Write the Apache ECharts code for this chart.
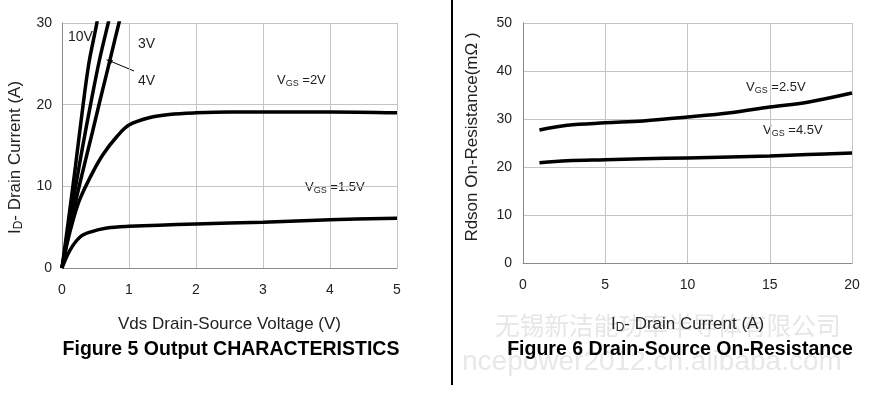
<!DOCTYPE html>
<html>
<head>
<meta charset="utf-8">
<script src="https://cdn.jsdelivr.net/npm/echarts@6/dist/echarts.min.js"></script>
<style>
  html, body { margin: 0; padding: 0; background: #fff; }
  #chart { width: 869px; height: 396px; }
</style>
</head>
<body>
<div id="chart"></div>
<script>
// Figure 5: output characteristics (Vds in V, Id in A)
const vdsTicks = [0, 1, 2, 3, 4, 5];
const idTicks = [0, 10, 20, 30];
const vds10V = [0, 0.1, 0.2, 0.3, 0.4, 0.52, 0.6];
const id10V = [0, 6.1, 12.4, 19.0, 25.0, 30.0, 34.0];
const vds4V = [0, 0.1, 0.2, 0.3, 0.44, 0.56, 0.69, 0.75];
const id4V = [0, 5.0, 9.8, 14.5, 20.6, 25.5, 30.0, 32.0];
const vds3V = [0, 0.1, 0.2, 0.3, 0.45, 0.57, 0.72, 0.85, 0.9];
const id3V = [0, 4.2, 8.0, 11.5, 16.5, 20.6, 25.6, 30.0, 31.5];
const vds2V = [0, 0.07, 0.17, 0.27, 0.47, 0.62, 0.82, 1.0, 1.3, 1.6, 2.0, 2.5, 3, 4, 5];
const id2V = [0, 2.8, 6.0, 8.5, 11.9, 14.0, 16.1, 17.5, 18.4, 18.8, 19.0, 19.1, 19.1, 19.1, 19.0];
const vds15V = [0, 0.12, 0.27, 0.42, 0.67, 1, 2, 3, 4, 5];
const id15V = [0, 2.2, 3.8, 4.4, 4.9, 5.1, 5.4, 5.6, 5.9, 6.1];

// Figure 6: on-resistance (Id in A, Rdson in mOhm)
const currentTicks = [0, 5, 10, 15, 20];
const rdsonTicks = [0, 10, 20, 30, 40, 50];
const currentA = [1, 2.7, 5, 7.3, 10, 12.6, 15, 17.3, 20];
const rdson25V = [27.7, 28.7, 29.2, 29.6, 30.4, 31.3, 32.5, 33.5, 35.4];
const rdson45V = [20.9, 21.3, 21.5, 21.7, 21.9, 22.1, 22.3, 22.6, 22.9];

const zip = (xs, ys) => xs.map((x, i) => [x, ys[i]]);

const FONT = '"Liberation Sans", Arial, sans-serif';
const gridColor = '#c4c4c4';
const axisColor = '#8a8a8a';
const textColor = '#222';

const subRich = {
    a: { fontSize: 17, color: textColor, fontFamily: FONT },
    s: { fontSize: 12, color: textColor, fontFamily: FONT, verticalAlign: 'bottom', padding: [7, 0, 0, 0] }
};

const tickLabel = (margin) => ({ color: textColor, fontSize: 14, fontFamily: FONT, margin: margin });

const valueAxis = (min, max, interval, extra) => Object.assign({
    type: 'value',
    min: min,
    max: max,
    interval: interval,
    axisLine: { show: true, lineStyle: { color: axisColor, width: 1 } },
    axisTick: { show: false },
    splitLine: { show: true, lineStyle: { color: gridColor, width: 1 } },
    nameLocation: 'middle',
    nameTextStyle: { color: textColor, fontSize: 17, fontFamily: FONT, rich: subRich }
}, extra);

const nameStyle = (padding) => ({ color: textColor, fontSize: 17, fontFamily: FONT, rich: subRich, padding: padding });

const curve = (name, data, xi, yi) => ({
    name: name,
    type: 'line',
    xAxisIndex: xi,
    yAxisIndex: yi,
    data: data,
    smooth: 0.35,
    showSymbol: false,
    clip: true,
    lineStyle: { color: '#000', width: 3.5 },
    silent: true
});

const vgsLabel = (x, y, val) => ({
    type: 'text', left: x, top: y,
    style: {
        text: '{a|V}{s|GS}{a| =' + val + '}',
        rich: {
            a: { fontSize: 13, fill: textColor, fontFamily: FONT },
            s: { fontSize: 9, fill: textColor, fontFamily: FONT, padding: [6, 0, 0, 0] }
        }
    }
});

const plainLabel = (x, y, t) => ({
    type: 'text', left: x, top: y,
    style: { text: t, fontSize: 14, fill: textColor, fontFamily: FONT }
});

const option = {
    animation: false,
    backgroundColor: '#fff',
    title: [
        {
            text: 'Figure 5 Output CHARACTERISTICS',
            left: 226, top: 335, textAlign: 'center',
            textStyle: { fontSize: 19.5, fontWeight: 'bold', color: '#000', fontFamily: FONT }
        },
        {
            text: 'Figure 6 Drain-Source On-Resistance',
            left: 675, top: 335, textAlign: 'center',
            textStyle: { fontSize: 19.5, fontWeight: 'bold', color: '#000', fontFamily: FONT }
        }
    ],
    grid: [
        { left: 62, right: 472, top: 23, bottom: 128 },
        { left: 523, right: 17, top: 23, bottom: 133 }
    ],
    xAxis: [
        valueAxis(vdsTicks[0], vdsTicks[vdsTicks.length - 1], 1, {
            gridIndex: 0, name: 'Vds Drain-Source Voltage (V)', nameGap: 48,
            axisLabel: tickLabel(15)
        }),
        valueAxis(currentTicks[0], currentTicks[currentTicks.length - 1], 5, {
            gridIndex: 1, name: '{a|I}{s|D}{a|- Drain Current (A)}', nameGap: 52,
            axisLabel: tickLabel(15)
        })
    ],
    yAxis: [
        valueAxis(idTicks[0], idTicks[idTicks.length - 1], 10, {
            gridIndex: 0, name: '{a|I}{s|D}{a|- Drain Current (A)}', nameGap: 37,
            nameTextStyle: nameStyle([0, 24, 0, 0]),
            axisLabel: tickLabel(10)
        }),
        valueAxis(rdsonTicks[0], rdsonTicks[rdsonTicks.length - 1], 10, {
            gridIndex: 1, name: 'Rdson On-Resistance(m\u03a9 )', nameGap: 42,
            nameTextStyle: nameStyle([0, 0, 0, 12]),
            axisLabel: tickLabel(11)
        })
    ],
    series: [
        curve('10V', zip(vds10V, id10V), 0, 0),
        curve('4V', zip(vds4V, id4V), 0, 0),
        curve('3V', zip(vds3V, id3V), 0, 0),
        curve('2V', zip(vds2V, id2V), 0, 0),
        curve('1.5V', zip(vds15V, id15V), 0, 0),
        curve('2.5V', zip(currentA, rdson25V), 1, 1),
        curve('4.5V', zip(currentA, rdson45V), 1, 1)
    ],
    graphic: [
        // watermark
        {
            type: 'text', left: 495, top: 313, z: -1,
            style: { text: '无锡新洁能功率半导体有限公司', fontSize: 24.7, fill: '#e6e6e6', fontFamily: '"Noto Sans CJK SC", sans-serif' }
        },
        {
            type: 'text', left: 462, top: 348, z: -1,
            style: { text: 'ncepower2012.cn.alibaba.com', fontSize: 28, fill: '#e8e8e8', fontFamily: FONT }
        },
        // divider
        {
            type: 'line', shape: { x1: 452, y1: 0, x2: 452, y2: 385 },
            style: { stroke: '#000', lineWidth: 2 }
        },
        plainLabel(68, 30, '10V'),
        plainLabel(138, 37, '3V'),
        plainLabel(138, 74, '4V'),
        {
            type: 'line', shape: { x1: 134, y1: 71, x2: 110, y2: 61 },
            style: { stroke: '#000', lineWidth: 1 }
        },
        {
            type: 'polygon', shape: { points: [[106, 59.5], [113, 60], [111, 64]] },
            style: { fill: '#000' }
        },
        vgsLabel(277, 74, '2V'),
        vgsLabel(305, 181, '1.5V'),
        vgsLabel(746, 81, '2.5V'),
        vgsLabel(763, 124, '4.5V')
    ]
};

const myChart = echarts.init(document.getElementById('chart'));
myChart.setOption(option);
</script>
</body>
</html>
